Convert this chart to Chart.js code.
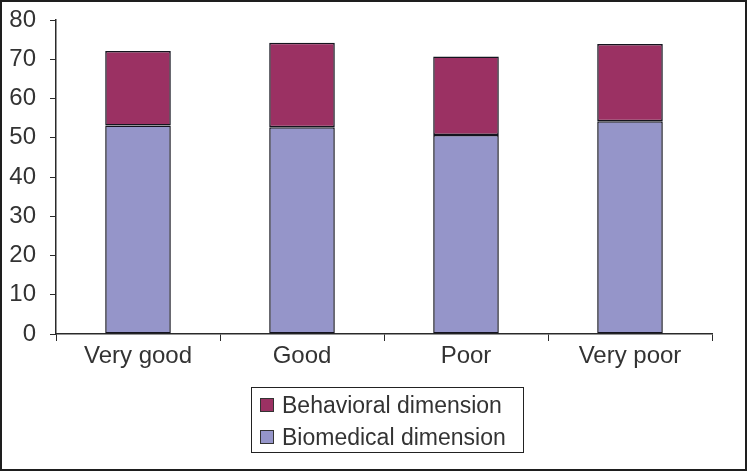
<!DOCTYPE html>
<html>
<head>
<meta charset="utf-8">
<script src="https://cdn.jsdelivr.net/npm/chart.js@4/dist/chart.umd.min.js"></script>
<style>
  html, body { margin: 0; padding: 0; background: #fff; }
  #wrap { position: relative; width: 747px; height: 471px; overflow: hidden; }
  #wrap canvas { position: absolute; left: 0; top: 0; }
  #frame { position: absolute; left: 0; top: 0; width: 747px; height: 471px; box-sizing: border-box; border: 2px solid #1e1e1e; pointer-events: none; }
  #legend { position: absolute; left: 251px; top: 387px; width: 273px; height: 66px; box-sizing: border-box; border: 1px solid #222; font-family: 'Liberation Sans', Arial, sans-serif; font-size: 23px; color: #333; }
  .leg-row { position: absolute; left: 8px; height: 26px; line-height: 26px; white-space: nowrap; }
  .leg-box { display: inline-block; width: 12px; height: 12px; border: 1px solid #333; vertical-align: middle; margin-right: 8px; position: relative; top: -2px; }
</style>
</head>
<body>
<div id="wrap">
  <canvas id="chart" width="747" height="471"></canvas>
  <div id="legend"></div>
  <div id="frame"></div>
</div>
<script>
// Data
const categories = ['Very good', 'Good', 'Poor', 'Very poor'];
const biomedical = [53.1, 52.7, 50.7, 54.2];
const behavioral = [19.0, 21.5, 20.0, 19.7];
const seriesNames = ['Behavioral dimension', 'Biomedical dimension'];
const colors = { bio: '#9595c9', beh: '#9b3163' };

const axisColor = '#2a2a2a';
const font = { family: 'Liberation Sans, Arial, sans-serif', size: 24 };

new Chart(document.getElementById('chart'), {
  type: 'bar',
  data: {
    labels: categories,
    datasets: [
      {
        label: seriesNames[1],
        data: biomedical,
        backgroundColor: colors.bio,
        borderColor: '#14141e',
        borderWidth: 1.5,
        borderSkipped: false,
        categoryPercentage: 1,
        barPercentage: 0.4
      },
      {
        label: seriesNames[0],
        data: behavioral,
        backgroundColor: colors.beh,
        borderColor: '#14141e',
        borderWidth: 1.5,
        borderSkipped: false,
        categoryPercentage: 1,
        barPercentage: 0.4
      }
    ]
  },
  options: {
    responsive: false,
    animation: false,
    layout: { padding: { left: 0, right: 35, top: 20, bottom: 0 } },
    plugins: {
      legend: { display: false },
      tooltip: { enabled: false }
    },
    scales: {
      x: {
        stacked: true,
        grid: { drawOnChartArea: false, drawTicks: true, tickLength: 7, color: axisColor, offset: true },
        border: { display: true, color: axisColor, width: 1.5 },
        ticks: { color: '#333', font: font, padding: 1, maxRotation: 0 },
        afterFit: (scale) => { scale.height = 137; }
      },
      y: {
        stacked: true,
        min: 0,
        max: 80,
        ticks: { stepSize: 10, color: '#333', font: font, padding: 14 },
        grid: { drawOnChartArea: false, drawTicks: true, tickLength: 6, color: axisColor },
        border: { display: true, color: axisColor, width: 1.5 },
        afterFit: (scale) => {
          scale.width = 56;
          scale.paddingTop = 0;
          scale.paddingBottom = 0;
        }
      }
    }
  }
});

// Vertical boxed legend, as in the reference
const legend = document.getElementById('legend');
[[seriesNames[0], colors.beh, 4], [seriesNames[1], colors.bio, 36]].forEach(([name, color, top]) => {
  const row = document.createElement('div');
  row.className = 'leg-row';
  row.style.top = top + 'px';
  row.innerHTML = `<span class="leg-box" style="background:${color}"></span>${name}`;
  legend.appendChild(row);
});
</script>
</body>
</html>
